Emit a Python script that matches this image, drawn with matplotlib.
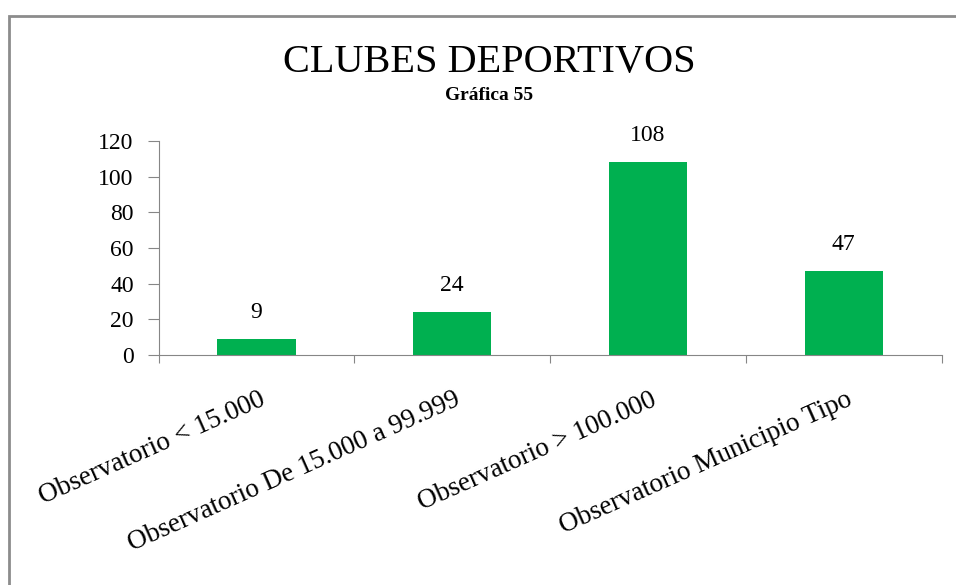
"""
Clubes deportivos - Gráfica 55
Bar chart of sports clubs by observatory group.
"""

import matplotlib
matplotlib.use('Agg')
import matplotlib.pyplot as plt
from matplotlib.patches import Rectangle
import numpy as np

# ── Data ───────────────────────────────────────────────────────────────────────
categories = [
    'Observatorio < 15.000',
    'Observatorio De 15.000 a 99.999',
    'Observatorio > 100.000',
    'Observatorio Municipio Tipo',
]
values = [9, 24, 108, 47]
y_ticks = [0, 20, 40, 60, 80, 100, 120]

GREEN = '#00B050'
AXIS_GRAY = '#868686'

plt.rcParams['font.family'] = ['Liberation Serif', 'DejaVu Serif']

fig = plt.figure(figsize=(9.56, 5.85), dpi=100)
ax = fig.add_axes([0.166, 0.393, 0.819, 0.366])

x = np.arange(len(categories))
ax.bar(x, values, width=0.4, color=GREEN, zorder=2)

# data labels above each bar
for xi, v in zip(x, values):
    ax.text(xi, v + 9, str(v), ha='center', va='bottom', fontsize=17)

ax.set_xlim(-0.5, len(categories) - 0.5)
ax.set_ylim(0, 120)
ax.set_yticks(y_ticks)
ax.tick_params(axis='y', labelsize=17, length=8, color=AXIS_GRAY, pad=10)

# x ticks sit between categories, labels under each bar
ax.set_xticks(np.arange(len(categories) + 1) - 0.5)
ax.set_xticklabels([])
ax.tick_params(axis='x', length=6, color=AXIS_GRAY)
for xi, lab in zip(x, categories):
    ax.text(xi + 0.01, -18, lab, rotation=24, ha='right', va='top',
            rotation_mode='anchor', fontsize=19.5, transform=ax.transData)

for side in ['top', 'right']:
    ax.spines[side].set_visible(False)
for side in ['left', 'bottom']:
    ax.spines[side].set_color(AXIS_GRAY)

# titles
fig.text(0.512, 1 - 72 / 585, 'CLUBES DEPORTIVOS', ha='center',
         va='baseline', fontsize=29)
fig.text(0.512, 1 - 100 / 585, 'Gráfica 55', ha='center', va='baseline',
         fontsize=14, fontweight='bold')

# outer chart frame
fig.patches.append(Rectangle((9 / 956, -0.05), 1.2, 1 - 16 / 585 + 0.05,
                             transform=fig.transFigure, fill=False,
                             edgecolor='#8c8c8c', linewidth=2))

fig.savefig('out.png', dpi=100)
